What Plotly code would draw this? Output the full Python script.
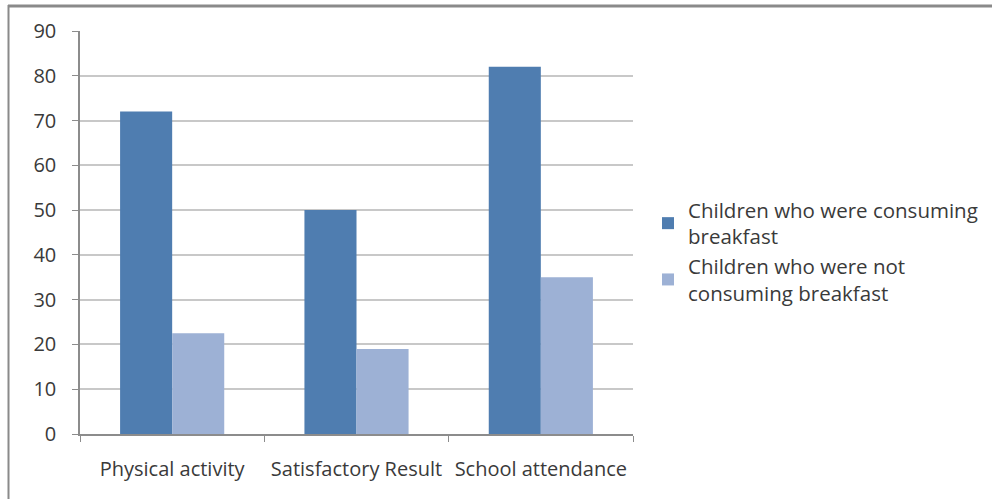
import plotly.graph_objects as go

categories = ["Physical activity", "Satisfactory Result", "School attendance"]
series_names = ["Children who were consuming<br>breakfast", "Children who were not<br>consuming breakfast"]
consuming = [72, 50, 82]
not_consuming = [22.5, 19, 35]
colors = ["#4f7db0", "#9db1d5"]
y_ticks = [0, 10, 20, 30, 40, 50, 60, 70, 80, 90]

FONT = "Open Sans"
TXT = "#3a3a3a"

fig = go.Figure()
for name, vals, col in zip(series_names, [consuming, not_consuming], colors):
    fig.add_trace(go.Bar(x=categories, y=vals, name=name, marker=dict(color=col, line=dict(width=0))))

L, R, T, B = 80, 359, 31, 65
W, H = 992, 499
pw, ph = W - L - R, H - T - B

def px_x(p):
    return (p - L) / pw

def px_y(p):
    return (H - B - p) / ph

fig.update_layout(
    width=W, height=H,
    margin=dict(l=L, r=R, t=T, b=B, autoexpand=False),
    paper_bgcolor="white", plot_bgcolor="white",
    barmode="group", bargap=0.435, bargroupgap=0,
    font=dict(family=FONT, size=20, color=TXT),
    showlegend=True,
    legend=dict(x=px_x(648), y=px_y(190), xanchor="left", yanchor="top",
                font=dict(size=20.5, color=TXT), tracegroupgap=20,
                itemwidth=30, bgcolor="rgba(0,0,0,0)"),
    xaxis=dict(showgrid=False, showline=True, linecolor="#8c8c8c", linewidth=1.5,
               ticks="outside", tickson="boundaries", ticklen=6, tickcolor="#8c8c8c",
               ticklabelstandoff=16, tickangle=0, automargin=False,
               tickfont=dict(size=20, color=TXT), fixedrange=True),
    yaxis=dict(range=[0, 90], tickvals=y_ticks, showgrid=True, gridcolor="#c8c8c8", gridwidth=1.5,
               showline=True, linecolor="#8c8c8c", linewidth=1.5, zeroline=False,
               ticks="outside", ticklen=6, tickcolor="#8c8c8c",
               ticklabelstandoff=12, automargin=False,
               tickfont=dict(size=20, color=TXT), fixedrange=True),
    shapes=[
        dict(type="line", xref="paper", yref="paper", x0=px_x(8), x1=px_x(992), y0=px_y(6), y1=px_y(6),
             line=dict(color="#8a8a8a", width=3)),
        dict(type="line", xref="paper", yref="paper", x0=px_x(8.5), x1=px_x(8.5), y0=px_y(5), y1=px_y(499),
             line=dict(color="#8a8a8a", width=2)),
    ],
)

fig.write_html("out.html")
